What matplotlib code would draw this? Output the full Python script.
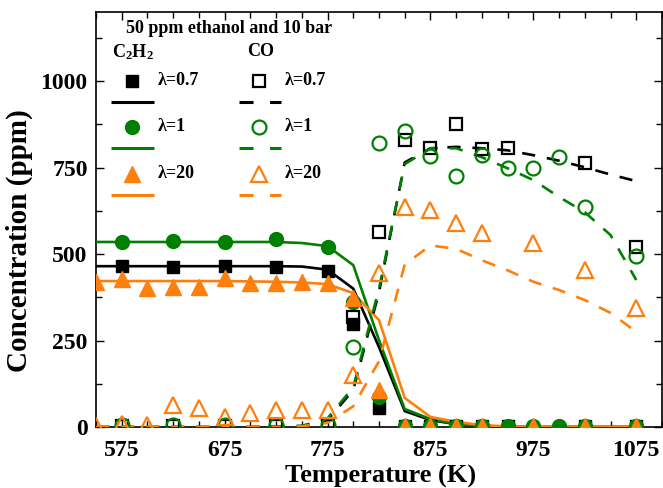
import matplotlib
matplotlib.use("Agg")
import matplotlib.pyplot as plt

plt.rcParams["font.family"] = ["Liberation Serif", "DejaVu Serif"]
plt.rcParams["font.weight"] = "bold"
plt.rcParams["mathtext.fontset"] = "custom"
plt.rcParams["mathtext.rm"] = "Liberation Serif:bold"
plt.rcParams["mathtext.it"] = "Liberation Serif:bold"
plt.rcParams["mathtext.bf"] = "Liberation Serif:bold"

BLACK = "black"
GREEN = "#008000"
ORANGE = "#FF7F0E"

# experimental C2H2 (filled markers)
c2h2_07_T = [575, 625, 675, 725, 775, 800, 825, 850, 875, 900, 925, 950, 1025, 1075]
c2h2_07_y = [465, 463, 465, 463, 451, 298, 55, 3, 3, 3, 3, 3, 3, 3]

c2h2_1_T = [575, 625, 675, 725, 775, 800, 825, 850, 875, 900, 925, 950, 975, 1000, 1025, 1075]
c2h2_1_y = [535, 538, 535, 543, 521, 362, 88, 3, 3, 3, 3, 3, 3, 3, 3, 3]

c2h2_20_T = [550, 575, 600, 625, 650, 675, 700, 725, 750, 775, 800, 825,
             850, 875, 900, 925, 975, 1025, 1075]
c2h2_20_y = [420, 428, 401, 405, 405, 430, 417, 417, 420, 416, 373, 107,
             3, 3, 3, 3, 3, 3, 3]

# experimental CO (open markers)
co_07_T = [575, 625, 675, 725, 775, 800, 825, 850, 875, 900, 925, 950, 1025, 1075]
co_07_y = [3, 3, 3, 3, 3, 318, 563, 829, 806, 876, 803, 806, 763, 520]

co_1_T = [575, 625, 675, 725, 775, 800, 825, 850, 875, 900, 925, 950, 975, 1000, 1025, 1075]
co_1_y = [5, 5, 5, 5, 5, 231, 820, 855, 783, 725, 786, 749, 749, 780, 636, 494]

co_20_T = [550, 575, 600, 625, 650, 675, 700, 725, 750, 775, 800, 825,
           850, 875, 900, 925, 975, 1025, 1075]
co_20_y = [2, 10, 5, 64, 55, 29, 40, 49, 49, 49, 150, 446,
           636, 627, 590, 560, 532, 454, 344]

# model curves
model_T = [550, 575, 600, 625, 650, 675, 700, 725, 750, 775, 800, 825, 850,
           875, 900, 925, 950, 975, 1000, 1025, 1050, 1075]
sim_c2h2_07 = [465, 465, 465, 465, 465, 465, 465, 465, 464, 455, 400, 231, 46,
               20, 8, 3, 1, 0, 0, 0, 0, 0]
sim_c2h2_1 = [535, 535, 535, 535, 535, 535, 535, 535, 532, 523, 468, 251, 52,
              23, 8, 3, 1, 0, 0, 0, 0, 0]
sim_c2h2_20 = [422, 422, 422, 422, 422, 422, 421, 420, 418, 413, 387, 309, 84,
               29, 15, 5, 2, 1, 0, 0, 0, 0]
sim_co_07 = [0, 0, 0, 0, 0, 0, 0, 1, 3, 20, 107, 390, 765,
             806, 810, 806, 800, 786, 770, 751, 730, 711]
sim_co_1 = [0, 0, 0, 0, 0, 0, 0, 1, 3, 25, 115, 400, 760,
            806, 806, 780, 748, 714, 665, 621, 555, 425]
sim_co_20 = [0, 0, 0, 0, 0, 0, 0, 0, 2, 12, 60, 190, 470,
             525, 515, 482, 453, 420, 396, 367, 330, 275]

x_major = [575, 675, 775, 875, 975, 1075]
x_minor = [550, 600, 625, 650, 700, 725, 750, 800, 825, 850, 900,
           925, 950, 1000, 1025, 1050, 1100]
y_major = [0, 250, 500, 750, 1000]
y_minor = [125, 375, 625, 875, 1125]

DASH = (0, (5, 4.5))


def plot_data(ax):
    ms = 9
    ax.plot(c2h2_07_T, c2h2_07_y, "s", color=BLACK, ms=ms, zorder=4)
    ax.plot(c2h2_1_T, c2h2_1_y, "o", color=GREEN, ms=ms + 1, zorder=4)
    ax.plot(c2h2_20_T, c2h2_20_y, "^", color=ORANGE, ms=ms + 2, zorder=4)

    ax.plot(co_07_T, co_07_y, "s", mfc="none", mec=BLACK, mew=1.6, ms=ms, zorder=4)
    ax.plot(co_1_T, co_1_y, "o", mfc="none", mec=GREEN, mew=1.6, ms=ms + 1, zorder=4)
    ax.plot(co_20_T, co_20_y, "^", mfc="none", mec=ORANGE, mew=1.6, ms=ms + 2, zorder=4)

    ax.plot(model_T, sim_c2h2_07, "-", color=BLACK, lw=1.9, zorder=3)
    ax.plot(model_T, sim_c2h2_1, "-", color=GREEN, lw=1.9, zorder=3)
    ax.plot(model_T, sim_c2h2_20, "-", color=ORANGE, lw=1.9, zorder=3)

    ax.plot(model_T, sim_co_07, linestyle=DASH, color=BLACK, lw=1.9, zorder=3)
    ax.plot(model_T, sim_co_1, linestyle=DASH, color=GREEN, lw=1.9, zorder=3)
    ax.plot(model_T, sim_co_20, linestyle=DASH, color=ORANGE, lw=1.9, zorder=3)


def draw_legend(ax):
    # hand-built two-column key, positions in axes fractions
    tr = ax.transAxes
    fs = 13
    ax.text(0.053, 0.961, "50 ppm ethanol and 10 bar", transform=tr,
            fontsize=fs, fontweight="bold", va="center", ha="left")
    ax.text(0.028, 0.904, r"C$_2$H$_2$", transform=tr,
            fontsize=fs, fontweight="bold", va="center", ha="left")
    ax.text(0.267, 0.904, "CO", transform=tr,
            fontsize=fs, fontweight="bold", va="center", ha="left")

    rows = [("s", BLACK, "λ=0.7", 0.834, 0.783, 9),
            ("o", GREEN, "λ=1", 0.723, 0.672, 10),
            ("^", ORANGE, "λ=20", 0.610, 0.559, 11)]
    for marker, color, label, ym, yl, ms in rows:
        ax.plot([0.0636], [ym], marker, color=color, ms=ms, transform=tr)
        ax.text(0.1095, ym, label, transform=tr, fontsize=fs,
                fontweight="bold", va="center", ha="left")
        ax.plot([0.0265, 0.1025], [yl, yl], "-", color=color, lw=2.2,
                transform=tr, solid_capstyle="butt")

        ax.plot([0.288], [ym], marker, mfc="none", mec=color, mew=1.6, ms=ms,
                transform=tr)
        ax.text(0.334, ym, label, transform=tr, fontsize=fs,
                fontweight="bold", va="center", ha="left")
        ax.plot([0.253, 0.327], [yl, yl], linestyle=(0, (4.6, 5.4)),
                color=color, lw=2.2, transform=tr, dash_capstyle="butt")


def main():
    fig = plt.figure(figsize=(6.63, 4.88), dpi=100)
    ax = fig.add_axes([0.1448, 0.125, 0.8537, 0.8504])

    plot_data(ax)
    draw_legend(ax)

    ax.set_xlim(550, 1100)
    ax.set_ylim(0, 1200)
    ax.set_xticks(x_major)
    ax.set_xticks(x_minor, minor=True)
    ax.set_yticks(y_major)
    ax.set_yticks(y_minor, minor=True)

    ax.tick_params(which="both", direction="in", top=True, right=True,
                   width=1.0)
    ax.tick_params(which="major", length=6, labelsize=17)
    ax.tick_params(axis="x", which="major", pad=9)
    ax.tick_params(axis="y", which="major", pad=6)
    ax.tick_params(which="minor", length=4)
    for lbl in ax.get_xticklabels() + ax.get_yticklabels():
        lbl.set_fontweight("bold")
    for sp in ax.spines.values():
        sp.set_linewidth(1.2)

    ax.set_xlabel("Temperature (K)", fontsize=19, fontweight="bold")
    ax.set_ylabel("Concentration (ppm)", fontsize=21, fontweight="bold")
    ax.xaxis.set_label_coords(0.503, -0.092)
    ax.yaxis.set_label_coords(-0.111, 0.448)

    fig.savefig("out.png", dpi=100)
    plt.close(fig)


if __name__ == "__main__":
    main()
